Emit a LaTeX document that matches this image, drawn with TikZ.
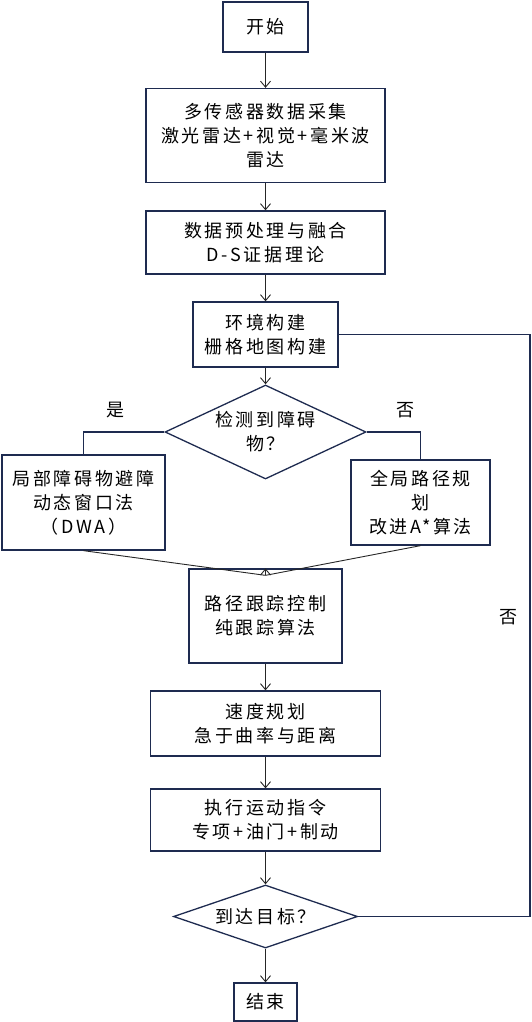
\documentclass[tikz,border=0pt]{standalone}
\usepackage{fontspec}
\setmainfont{Noto Sans CJK SC}[LetterSpace=15]
\usetikzlibrary{positioning,shapes.geometric,arrows.meta}
\definecolor{navy}{HTML}{1E2B50}
\begin{document}
\begin{tikzpicture}[
  x=1pt, y=-1pt,
  block/.style={rectangle, draw=navy, line width=1.3pt, align=center, inner sep=0pt},
  decision/.style={diamond, draw=navy, line width=1.3pt, align=center, inner sep=0pt},
  flow/.style={-{Straight Barb[length=6pt,width=10pt]}, line width=0.9pt, black!85},
  branch/.style={line width=1.1pt, navy},
  font=\fontsize{18}{24}\selectfont
]
\useasboundingbox (0,0) rectangle (532,1022);
\node[block, minimum width=85pt, minimum height=50pt] (start) at (265.5,27) {开始};
\node[block, below of=start, node distance=108.5pt, minimum width=239pt, minimum height=94pt] (sensor) {多传感器数据采集\\激光雷达+视觉+毫米波\\雷达};
\node[block, below of=sensor, node distance=107pt, minimum width=239pt, minimum height=63pt] (prep) {数据预处理与融合\\D-S证据理论};
\node[block, below of=prep, node distance=92pt, minimum width=145pt, minimum height=65pt] (env) {环境构建\\栅格地图构建};
\node[decision, below of=env, node distance=97.5pt, aspect=2.14, minimum width=201pt, minimum height=94pt] (obst) {检测到障碍\\物？};
\node[block, minimum width=163pt, minimum height=95pt] (local) at (83.5,502.5) {局部障碍物避障\\动态窗口法\\（DWA）};
\node[block, minimum width=139pt, minimum height=85pt] (global) at (420.5,502.5) {全局路径规\\划\\改进A*算法};
\node[block, below of=obst, node distance=184pt, minimum width=153pt, minimum height=94pt] (track) {路径跟踪控制\\纯跟踪算法};
\node[block, below of=track, node distance=107.5pt, minimum width=230pt, minimum height=65pt] (speed) {速度规划\\急于曲率与距离};
\node[block, below of=speed, node distance=96.5pt, minimum width=230pt, minimum height=62pt] (exec) {执行运动指令\\专项+油门+制动};
\node[decision, below of=exec, node distance=96.5pt, aspect=2.92, minimum width=184pt, minimum height=63pt] (goal) {到达目标？};
\node[block, below of=goal, node distance=85.5pt, minimum width=63pt, minimum height=38pt] (stop) {结束};

\node (yes) at (115,410) {是};
\node (no) at (405,410) {否};
\node (noloop) at (508,617) {否};
\coordinate (loopx) at (530,0);
\coordinate (merge) at ([yshift=-7pt]track.north);

\draw[flow] (start) -- (sensor);
\draw[flow] (sensor) -- (prep);
\draw[flow] (prep) -- (env);
\draw[flow] (env) -- (obst);
\draw[branch] (obst.west) -| (local.north);
\draw[branch] (obst.east) -| (global.north);
\draw[flow, -] (local.south) -- (merge);
\draw[flow, -] (global.south) -- (merge);
\draw[flow] (merge) -- (track.north);
\draw[flow] (track) -- (speed);
\draw[flow] (speed) -- (exec);
\draw[flow] (exec) -- (goal);
\draw[flow] (goal) -- (stop);
\draw[branch] (goal.east) -- (goal.east -| loopx) |- (env.east);
\end{tikzpicture}
\end{document}
